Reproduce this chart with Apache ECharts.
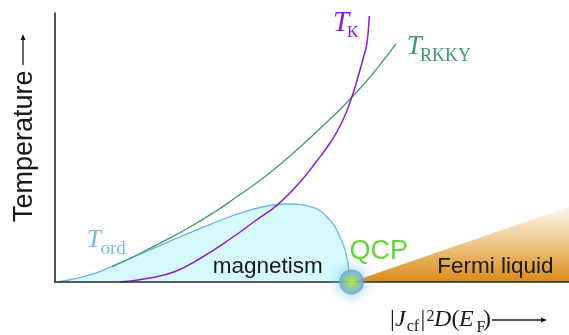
<!DOCTYPE html>
<html>
<head>
<meta charset="utf-8">
<script src="https://cdn.jsdelivr.net/npm/echarts@6/dist/echarts.min.js"></script>
<style>
html,body{margin:0;padding:0;background:#fff;}
#chart{width:569px;height:335px;}
</style>
</head>
<body>
<div id="chart"></div>
<script>
// Values (arbitrary units: x 0..100, temperature 0..100)
const tordCurve = [[0.58,0],[6.48,2.42],[11.03,5.69],[16.21,10.04],[21.40,14.39],[25.93,18.10],[31.13,22.12],[34.69,24.72],[41.19,28.25],[45.08,29.00],[49.61,27.99],[52.86,24.28],[55.45,16.84],[56.75,9.41],[57.26,2.23],[57.49,0]];
const trkkyCurve = [[11.03,5.69],[16.21,10.33],[21.40,15.39],[25.93,20.07],[31.13,26.13],[34.69,30.74],[41.19,39.67],[47.67,50.19],[53.83,61.15],[57.72,68.59],[61.93,77.66],[66.34,88.48]];
const tkCurve = [[12.65,0],[18.48,1.49],[23.35,3.90],[28.21,8.74],[34.63,16.73],[38.91,22.68],[43.39,28.88],[47.67,37.17],[50.78,44.61],[53.50,51.67],[55.84,59.48],[57.72,68.59],[58.95,76.21],[59.92,82.90],[60.51,86.99],[60.74,89.59],[60.93,92.94],[61.15,98.88]];
const fermiEdge = [[57.7,0],[100,28.0]];
const qcpPoint = [[57.7,0]];

const chart = echarts.init(document.getElementById('chart'), null, {renderer:'canvas'});
const serif = '"Liberation Serif", "DejaVu Serif", serif';
const sans = '"Liberation Sans", Arial, sans-serif';
function txt(text, x, y, size, color, family, italic, extra) {
  return Object.assign({
    type: 'text', x: x, y: y, z: 100,
    style: {
      text: text, fill: color,
      font: (italic ? 'italic ' : '') + size + 'px ' + family,
      textAlign: 'left', verticalAlign: 'middle', textVerticalAlign: 'middle'
    }
  }, extra || {});
}
const purple = '#8a1bd9', green = '#3d9a72', blue = '#6ab4e6', dark = '#1a1a1a';

chart.setOption({
  animation: false,
  grid: {left: 55, right: 0, top: 13, bottom: 53},
  xAxis: {type: 'value', min: 0, max: 100, z: 10,
    axisLine: {show: true, lineStyle: {color: '#2a2a2a', width: 1.6}},
    axisTick: {show: false}, axisLabel: {show: false}, splitLine: {show: false}},
  yAxis: {type: 'value', min: 0, max: 100, z: 10,
    axisLine: {show: true, lineStyle: {color: '#2a2a2a', width: 1.6}},
    axisTick: {show: false}, axisLabel: {show: false}, splitLine: {show: false}},
  series: [
    {type: 'line', data: fermiEdge, symbol: 'none', z: 1,
     lineStyle: {width: 0},
     areaStyle: {opacity: 1, color: new echarts.graphic.LinearGradient(0,0,0,1,[
       {offset: 0, color: '#fdf7ef'}, {offset: 0.45, color: '#f0cb90'}, {offset: 1, color: '#d98a18'}])}},
    {type: 'line', data: tordCurve, symbol: 'none', smooth: 0.5, z: 2,
     lineStyle: {color: blue, width: 1.3},
     areaStyle: {color: '#d6f9fc', opacity: 1}},
    {type: 'line', data: trkkyCurve, symbol: 'none', smooth: 0.5, z: 3,
     lineStyle: {color: green, width: 1.3}},
    {type: 'line', data: tkCurve, symbol: 'none', smooth: 0.5, z: 4,
     lineStyle: {color: purple, width: 1.5}},
    {type: 'scatter', data: qcpPoint, symbolSize: 25, z: 20, clip: false,
     itemStyle: {
       color: new echarts.graphic.RadialGradient(0.5,0.5,0.5,[
         {offset: 0, color: '#b8f43a'}, {offset: 0.35, color: '#9cd852'}, {offset: 0.8, color: '#74b0c6'}, {offset: 1, color: '#6aa2c2'}]),
       shadowBlur: 14, shadowColor: 'rgba(90,180,255,0.95)'}}
  ],
  graphic: [
    txt('T', 333, 23, 29, purple, serif, true),
    txt('K', 347, 32.7, 16, purple, serif, false),
    txt('T', 406.7, 46.9, 27, green, serif, true),
    txt('RKKY', 420, 56.1, 18, green, serif, false),
    txt('T', 86.7, 240.5, 26, '#7ab8e6', serif, true),
    txt('ord', 100.5, 249.1, 19, '#7ab8e6', serif, false),
    txt('magnetism', 212.7, 266.3, 22.5, dark, sans, false),
    txt('Fermi liquid', 437.3, 266.3, 22.5, dark, sans, false),
    txt('QCP', 349.5, 251.6, 27, '#66d23a', sans, false),
    txt('Temperature', 24.9, 222, 27, dark, sans, false, {rotation: Math.PI / 2}),
    // y arrow
    {type: 'line', z: 100, shape: {x1: 23, y1: 65, x2: 23, y2: 38}, style: {stroke: dark, lineWidth: 1.3}},
    {type: 'polygon', z: 100, shape: {points: [[23, 34], [20.5, 40], [25.5, 40]]}, style: {fill: dark}},
    // x label
    txt('|', 390, 319.3, 24, dark, serif, false),
    txt('J', 395, 319.3, 24, dark, serif, true),
    txt('cf', 406.7, 327, 16, dark, serif, false),
    txt('|', 420.5, 319.3, 24, dark, serif, false),
    txt('2', 426.5, 316.6, 16, dark, serif, false),
    txt('D', 434, 319.3, 24, dark, serif, true),
    txt('(', 451.5, 319.3, 24, dark, serif, false),
    txt('E', 459, 319.3, 24, dark, serif, true),
    txt('F', 476.5, 328, 16, dark, serif, false),
    txt(')', 483, 319.3, 24, dark, serif, false),
    {type: 'line', z: 100, shape: {x1: 492, y1: 320, x2: 543, y2: 320}, style: {stroke: dark, lineWidth: 1.3}},
    {type: 'polygon', z: 100, shape: {points: [[547, 320], [541, 317.5], [541, 322.5]]}, style: {fill: dark}}
  ]
});
</script>
</body>
</html>
